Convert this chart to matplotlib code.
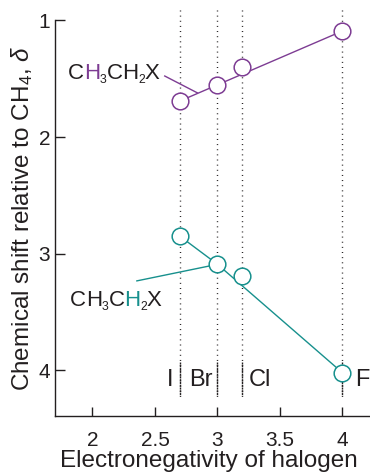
import matplotlib
matplotlib.use("Agg")
import matplotlib.pyplot as plt

plt.rcParams['font.family'] = ['Liberation Sans', 'DejaVu Sans']
plt.rcParams['mathtext.fontset'] = 'custom'
plt.rcParams['mathtext.rm'] = 'Liberation Sans'
plt.rcParams['mathtext.it'] = 'Liberation Sans:italic'

# ---- data ----
halogens = ['I', 'Br', 'Cl', 'F']
electronegativity = [2.7, 3.0, 3.2, 4.0]
shift_CH3 = [1.69, 1.55, 1.40, 1.09]   # CH3 protons of CH3CH2X
shift_CH2 = [2.85, 3.09, 3.19, 4.02]   # CH2 protons of CH3CH2X
ch3_line_idx = [0, 3]
ch2_line_idx = [0, 1, 3]
xticks = [2, 2.5, 3, 3.5, 4]
xtick_labels = ['2', '2.5', '3', '3.5', '4']
yticks = [1, 2, 3, 4]
ytick_labels = ['1', '2', '3', '4']

PURPLE = '#7d3c93'
TEAL = '#17908d'
INK = '#231f20'

fig = plt.figure(figsize=(3.70, 4.74), dpi=100)
ax = fig.add_axes([0.1486, 0.1224, 0.8514, 0.8344])
ax.set_xlim(1.70, 4.22)
ax.set_ylim(4.39, 1.0)

for s in ['top', 'right']:
    ax.spines[s].set_visible(False)
for s in ['left', 'bottom']:
    ax.spines[s].set_color(INK)
    ax.spines[s].set_linewidth(1.0)

ax.set_xticks(xticks)
ax.set_xticklabels(xtick_labels)
ax.set_yticks(yticks)
ax.set_yticklabels(ytick_labels)
ax.tick_params(axis='x', direction='in', length=6.5, width=1.0, color=INK,
               labelsize=15, pad=11, labelcolor=INK)
ax.tick_params(axis='y', direction='in', length=7.5, width=1.0, color=INK,
               labelsize=15, pad=3.5, labelcolor=INK)

# dotted vertical guide lines
for xe in electronegativity:
    ax.plot([xe, xe], [0.91, 4.25], linestyle=(0, (0.7, 3.0)), color=INK,
            linewidth=1.0, clip_on=False, zorder=1)
    ax.plot([xe, xe], [3.93, 4.21], linestyle=(0, (1.5, 0.5)), color=INK,
            linewidth=1.0, clip_on=False, zorder=1)

# halogen labels (I left of its line, others right of the preceding/own line)
label_x = [electronegativity[0] - 0.05,   # I
           electronegativity[0] + 0.075,  # Br, between the I and Br lines
           electronegativity[2] + 0.054,  # Cl
           electronegativity[3] + 0.098]  # F
label_ha = ['right', 'left', 'left', 'left']
for name, lx, ha in zip(halogens, label_x, label_ha):
    ax.text(lx, 4.13, name, ha=ha, va='baseline', fontsize=17, color=INK)

# lines
ax.plot([electronegativity[i] for i in ch3_line_idx], [shift_CH3[i] for i in ch3_line_idx],
        color=PURPLE, linewidth=1.0, zorder=3)
ax.plot([electronegativity[i] for i in ch2_line_idx], [shift_CH2[i] for i in ch2_line_idx],
        color=TEAL, linewidth=1.0, zorder=3)

# leaders
ax.plot([2.578, 2.84], [1.476, 1.621], color=PURPLE, linewidth=1.0, zorder=3)
ax.plot([2.355, electronegativity[1]], [3.232, shift_CH2[1]], color=TEAL, linewidth=1.0, zorder=3)

# markers
ax.plot(electronegativity, shift_CH3, linestyle='none', marker='o', markersize=12,
        markerfacecolor='white', markeredgecolor=PURPLE, markeredgewidth=1.1,
        zorder=5, clip_on=False)
ax.plot(electronegativity, shift_CH2, linestyle='none', marker='o', markersize=12,
        markerfacecolor='white', markeredgecolor=TEAL, markeredgewidth=1.1,
        zorder=5, clip_on=False)


def formula(x, y, colored, color, fs=16):
    pieces = [('C', False), ('H', False), ('3', True), ('C', False), ('H', False),
              ('2', True), ('X', False)]
    first = ax.annotate('C', xy=(x, y), xycoords='data', ha='left', va='baseline',
                        fontsize=fs, color=INK)
    prev = first
    prev_main = first
    h_count = 0
    for s, sub in pieces[1:]:
        c = INK
        if s == 'H':
            if h_count == colored:
                c = color
            h_count += 1
        if sub:
            t = ax.annotate(s, xy=(1, 0), xycoords=(prev, prev_main), xytext=(0.0, -1.6),
                            textcoords='offset points', ha='left', va='bottom',
                            fontsize=fs * 0.55, color=INK)
        else:
            t = ax.annotate(s, xy=(1, 0), xycoords=(prev, prev_main), xytext=(-0.3, 0),
                            textcoords='offset points', ha='left',
                            va='bottom', fontsize=fs, color=c)
            prev_main = t
        prev = t


formula(1.807, 1.50, 0, PURPLE)
formula(1.823, 3.447, 1, TEAL)

ax.set_xlabel('Electronegativity of halogen', fontsize=17.5, color=INK)
ax.xaxis.set_label_coords(0.489, -0.086)
ax.set_ylabel(r'Chemical shift relative to CH$_4$, $\delta$', fontsize=17.5, color=INK)
ax.yaxis.set_label_coords(-0.063, 0.5)

fig.savefig('out.png', dpi=100)
